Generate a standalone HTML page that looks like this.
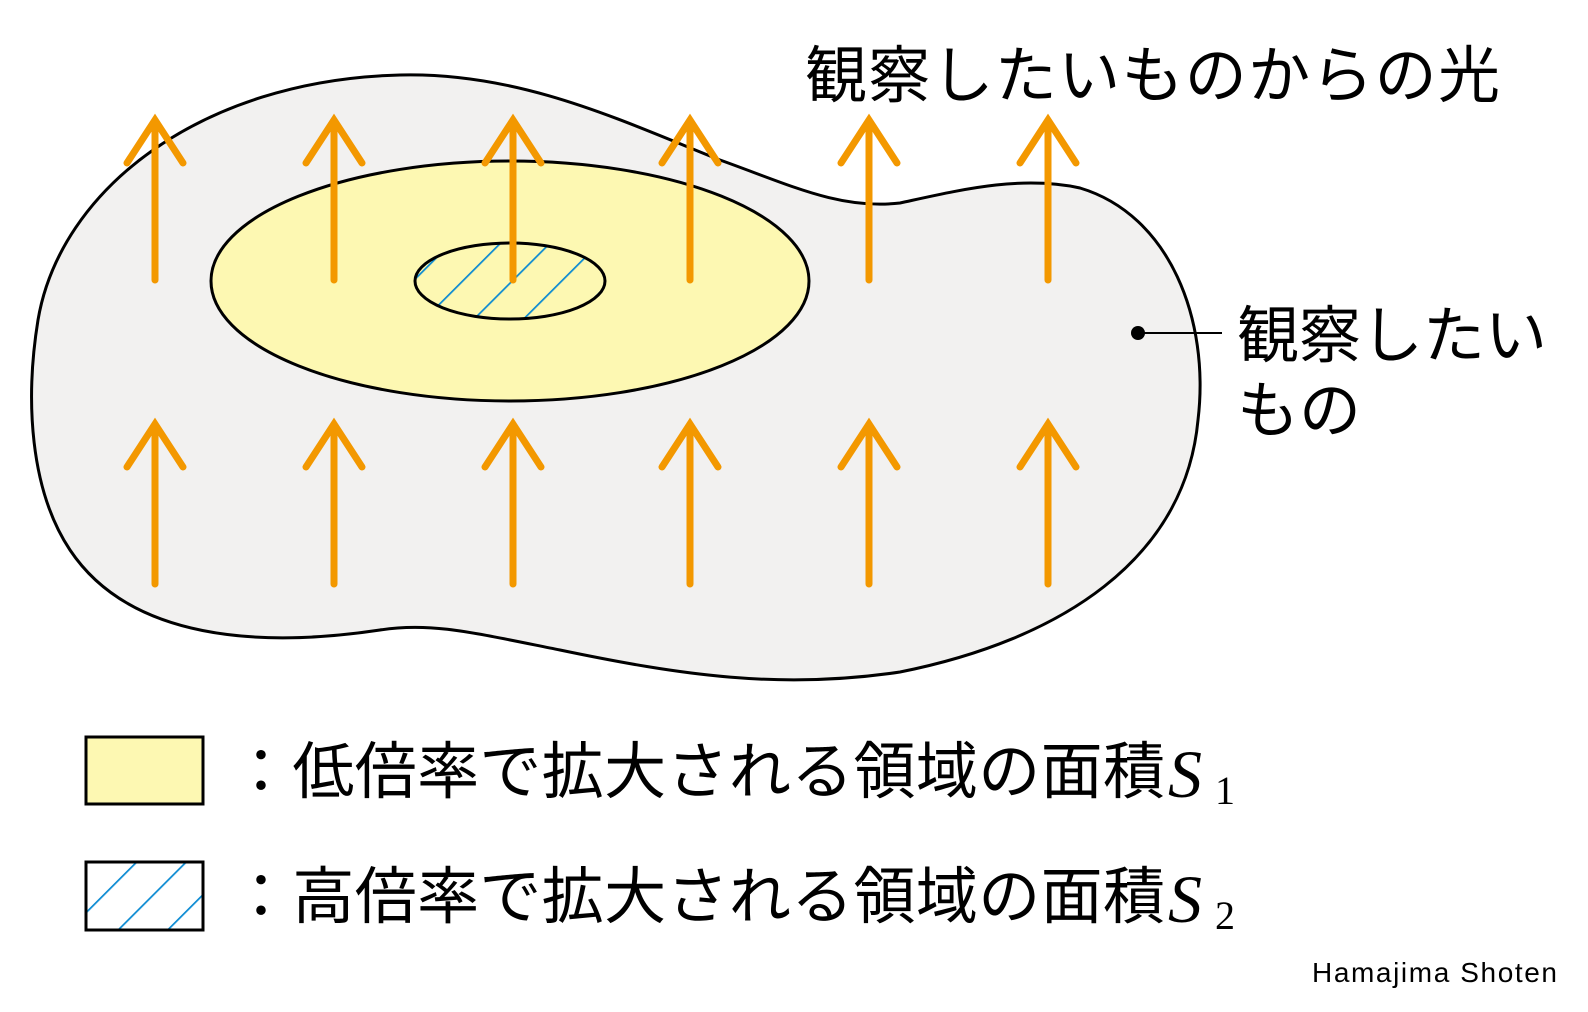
<!DOCTYPE html>
<html><head><meta charset="utf-8"><style>
html,body{margin:0;padding:0;background:#fff;}
svg{display:block}
.j{font-family:"Liberation Sans","Noto Sans CJK JP",sans-serif;}
</style></head><body>
<svg width="1588" height="1012" viewBox="0 0 1588 1012" xmlns="http://www.w3.org/2000/svg">
<defs>
<pattern id="h" patternUnits="userSpaceOnUse" width="35" height="35" patternTransform="rotate(45)">
<line x1="0" y1="0" x2="0" y2="35" stroke="#0a8ad2" stroke-width="3.5"/>
</pattern>
<clipPath id="ce"><ellipse cx="510" cy="281" rx="95" ry="38"/></clipPath>
</defs>
<path d="M400,75 C520,72 620,120 720,160 C790,185 840,210 900,203 C960,190 1020,175 1080,188 C1170,215 1210,320 1198,420 C1185,560 1060,640 900,672 C780,690 680,675 560,650 C470,632 430,622 380,630 C260,648 130,640 70,550 C30,490 25,400 38,320 C60,190 200,80 400,75 Z" fill="#f2f1f0" stroke="#000" stroke-width="3"/>
<ellipse cx="510" cy="281" rx="299" ry="120" fill="#fdf8b2" stroke="#000" stroke-width="3"/>
<rect x="400" y="230" width="220" height="100" fill="url(#h)" clip-path="url(#ce)"/>
<ellipse cx="510" cy="281" rx="95" ry="38" fill="none" stroke="#000" stroke-width="3"/>
<g stroke="#f39800" stroke-width="7" stroke-linecap="round" fill="none">
<g id="a"><line x1="155" y1="122" x2="155" y2="280"/><polyline points="127,163 155,120 183,163"/></g>
<use href="#a" x="179"/><use href="#a" x="358"/><use href="#a" x="535"/><use href="#a" x="714"/><use href="#a" x="893"/>
<use href="#a" y="304"/><use href="#a" x="179" y="304"/><use href="#a" x="358" y="304"/><use href="#a" x="535" y="304"/><use href="#a" x="714" y="304"/><use href="#a" x="893" y="304"/>
</g>
<circle cx="1138" cy="333" r="7" fill="#000"/>
<line x1="1138" y1="333" x2="1222" y2="333" stroke="#000" stroke-width="2"/>
<g class="j" font-size="62" fill="#000">
<text x="805" y="97" textLength="695">観察したいものからの光</text>
<text x="1237" y="357">観察したい</text>
<text x="1237" y="432">もの</text>
<text x="230" y="793" textLength="935">：低倍率で拡大される領域の面積</text>
<text x="230" y="918" textLength="935">：高倍率で拡大される領域の面積</text>
</g>
<g font-family="Liberation Serif,serif" fill="#000">
<text x="1168" y="797" font-size="68" font-style="italic">S</text><text x="1215" y="804" font-size="40">1</text>
<text x="1168" y="922" font-size="68" font-style="italic">S</text><text x="1215" y="929" font-size="40">2</text>
</g>
<rect x="86" y="737" width="117" height="67" fill="#fdf8b2" stroke="#000" stroke-width="3"/>
<svg x="86" y="862" width="117" height="68"><rect x="-30" y="-30" width="200" height="130" fill="url(#h)"/></svg>
<rect x="86" y="862" width="117" height="68" fill="none" stroke="#000" stroke-width="3"/>
<text x="1312" y="982" font-family="Liberation Sans,sans-serif" font-size="28" fill="#000" textLength="245">Hamajima Shoten</text>
</svg>
</body></html>
